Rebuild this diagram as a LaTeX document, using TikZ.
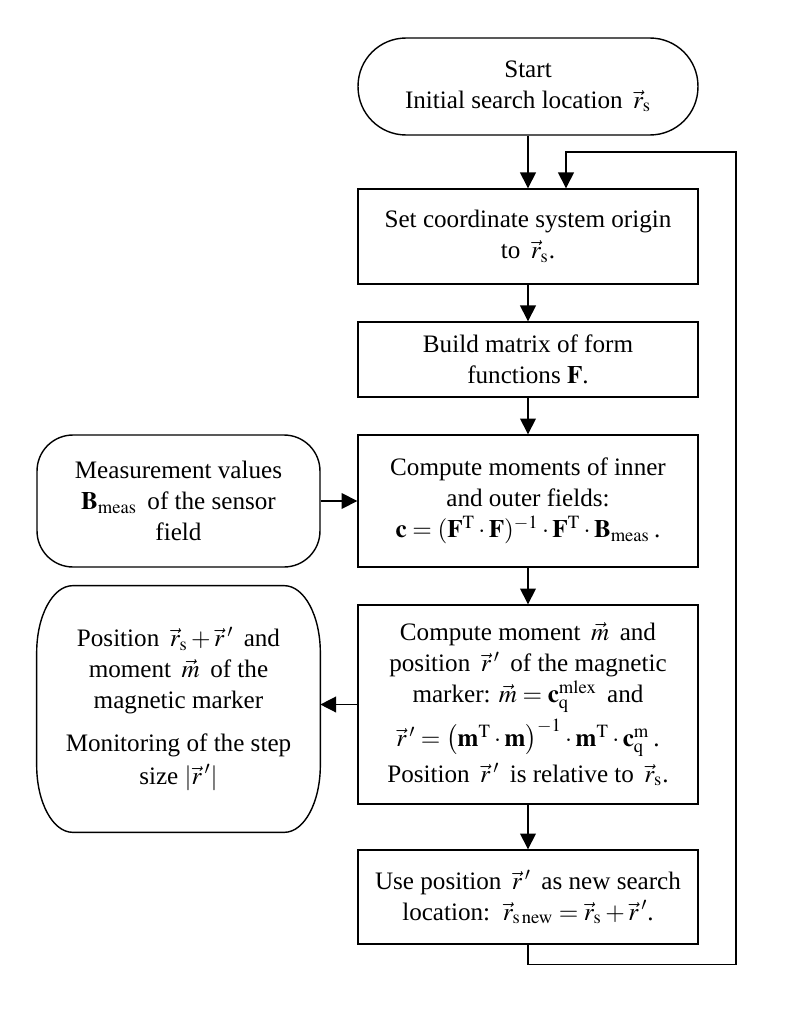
\documentclass[tikz,border=0pt]{standalone}
\usepackage{mathptmx}
\usepackage{fontspec}
\setmainfont{Liberation Serif}
\usetikzlibrary{arrows.meta}

\begin{document}
\begin{tikzpicture}[x=0.02cm,y=-0.02cm,align=center]
\tikzstyle{box} = [rectangle, minimum width=6.8cm, text centered, draw=black, line width=0.8pt, inner sep=2pt]
\tikzstyle{term} = [rectangle, rounded corners=0.96cm, minimum width=6.8cm, text centered, draw=black, line width=0.8pt]
\tikzstyle{arrow} = [line width=0.8pt, -{Triangle[length=9pt,width=9pt]}]
\useasboundingbox (0,0) rectangle (785,1024);
{\fontsize{14.3}{17.5}\selectfont
    \path
        (528, 86.5) node[term, minimum height=1.94cm] (start) {Start\\Initial search location \,$\vec{r}_{\mathrm{s}}$}
        (528, 236.5) node[box, minimum height=1.9cm] (origin) {Set coordinate system origin\\to \,$\vec{r}_{\mathrm{s}}$.}
        (528, 359.5) node[box, minimum height=1.5cm] (build) {Build matrix of form\\functions $\mathbf{F}$.}
        (528, 501) node[box, minimum height=2.64cm] (moments) {Compute moments of inner\\and outer fields:\\$\mathbf{c}=(\mathbf{F}^{\mathrm{T}}\cdot\mathbf{F})^{-1}\cdot\mathbf{F}^{\mathrm{T}}\cdot\mathbf{B}_{\mathrm{meas}}$\,.}
        (528, 704.5) node[box, minimum height=3.98cm] (marker) {Compute moment \,$\vec{m}$\, and\\position \,$\vec{r}\,'$\, of the magnetic\\marker: $\vec{m}=\mathbf{c}_{\mathrm{q}}^{\mathrm{mlex}}$\, and\\[3pt]$\vec{r}\,'=\bigl(\mathbf{m}^{\mathrm{T}}\cdot\mathbf{m}\bigr)^{-1}\cdot\mathbf{m}^{\mathrm{T}}\cdot\mathbf{c}_{\mathrm{q}}^{\mathrm{m}}$\,.\\[3pt]Position \,$\vec{r}\,'$\, is relative to \,$\vec{r}_{\mathrm{s}}$.}
        (528, 897) node[box, minimum height=1.88cm] (update) {Use position \,$\vec{r}\,'$\, as new search\\location: \,$\vec{r}_{\mathrm{s\,new}}=\vec{r}_{\mathrm{s}}+\vec{r}\,'$.}
        (178.5, 501) node[term, rounded corners=0.72cm, minimum width=5.66cm, minimum height=2.64cm] (meas) {Measurement values\\$\mathbf{B}_{\mathrm{meas}}$\, of the sensor\\field}
        (178.5, 709) node[rectangle, minimum width=5.66cm, minimum height=4.92cm] (result) {Position \,$\vec{r}_{\mathrm{s}}+\vec{r}\,'$\, and\\moment \,$\vec{m}$\, of the\\magnetic marker\\[7pt]Monitoring of the step\\[1pt]size $|\vec{r}\,'|$};

        % outline of the result terminal
        \draw[line width=0.8pt] ([xshift=0.72cm]result.north west) -- ([xshift=-0.72cm]result.north east)
            arc[start angle=90, end angle=0, x radius=0.72cm, y radius=1.34cm]
            -- ([yshift=1.34cm]result.south east)
            arc[start angle=0, end angle=-90, x radius=0.72cm, y radius=1.34cm]
            -- ([xshift=0.72cm]result.south west)
            arc[start angle=270, end angle=180, x radius=0.72cm, y radius=1.34cm]
            -- ([yshift=-1.34cm]result.north west)
            arc[start angle=180, end angle=90, x radius=0.72cm, y radius=1.34cm] -- cycle;

        \draw [arrow] (start) -- (origin);
        \draw [arrow] (origin) -- (build);
        \draw [arrow] (build) -- (moments);
        \draw [arrow] (moments) -- (marker);
        \draw [arrow] (marker) -- (update);
        \draw [arrow] (meas) -- (moments);
        \draw [arrow] (marker.west) -- (marker.west -| result.east);
        \draw [arrow] (update.south) -- ++(0,20) -| (736,152) -| ([xshift=0.76cm]origin.north);
}
\end{tikzpicture}
\end{document}
